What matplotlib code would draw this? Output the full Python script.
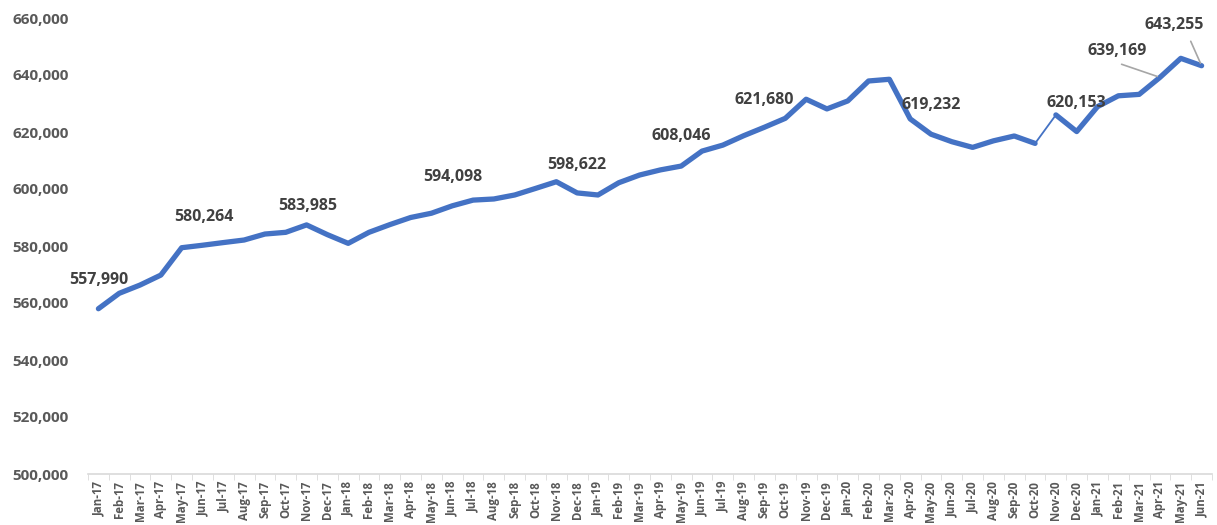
import matplotlib.pyplot as plt
from matplotlib.ticker import FuncFormatter

months = ['Jan-17', 'Feb-17', 'Mar-17', 'Apr-17', 'May-17', 'Jun-17', 'Jul-17', 'Aug-17',
          'Sep-17', 'Oct-17', 'Nov-17', 'Dec-17', 'Jan-18', 'Feb-18', 'Mar-18', 'Apr-18',
          'May-18', 'Jun-18', 'Jul-18', 'Aug-18', 'Sep-18', 'Oct-18', 'Nov-18', 'Dec-18',
          'Jan-19', 'Feb-19', 'Mar-19', 'Apr-19', 'May-19', 'Jun-19', 'Jul-19', 'Aug-19',
          'Sep-19', 'Oct-19', 'Nov-19', 'Dec-19', 'Jan-20', 'Feb-20', 'Mar-20', 'Apr-20',
          'May-20', 'Jun-20', 'Jul-20', 'Aug-20', 'Sep-20', 'Oct-20', 'Nov-20', 'Dec-20',
          'Jan-21', 'Feb-21', 'Mar-21', 'Apr-21', 'May-21', 'Jun-21']

values = [557990, 563400, 566300, 569800, 579400, 580264, 581200, 582100,
          584200, 584800, 587400, 583985, 580930, 584800, 587500, 590000,
          591500, 594098, 596100, 596500, 597900, 600200, 602550, 598622,
          597900, 602200, 604900, 606700, 608046, 613300, 615400, 618700,
          621680, 624800, 631500, 628100, 630900, 637900, 638500, 624600,
          619232, 616600, 614600, 616900, 618600, 616000, 626000, 620153,
          628900, 632700, 633200, 639169, 645850, 643255]

# labelled months and label offsets (pixels)
label_idx = [0, 5, 11, 17, 23, 28, 32, 40, 47, 51, 53]
label_dx = [0, 1, -20, 0, 0, 0, 0, 0, 0, -43, -27]
label_dy = [29, 28, 29, 29, 28, 30, 27, 29, 29, 26, 41]

blue = '#4472C4'
plt.rcParams['font.family'] = ['Open Sans', 'DejaVu Sans']

fig = plt.figure(figsize=(12.17, 5.25), dpi=100)
ax = fig.add_axes([88 / 1217, 51 / 525, 1124 / 1217, 456 / 525])

x = list(range(len(months)))
kw = dict(color=blue, solid_capstyle='round', solid_joinstyle='round')
# Excel drew the Oct-20 -> Nov-20 segment thin
ax.plot(x[:46], values[:46], lw=3.8, **kw)
ax.plot(x[45:47], values[45:47], lw=1.3, **kw)
ax.plot(x[46:], values[46:], lw=3.8, **kw)

for i, dx, dy in zip(label_idx, label_dx, label_dy):
    ax.annotate(f'{values[i]:,}', (x[i], values[i]), xytext=(dx, dy),
                textcoords='offset pixels', ha='center', va='center',
                fontsize=11.5, fontweight='bold', color='#404040')
    if i in (51, 53):
        ax.annotate('', (x[i], values[i]), xytext=(dx + (15 if i == 53 else 2), dy - (14 if i == 53 else 12)),
                    textcoords='offset pixels',
                    arrowprops=dict(arrowstyle='-', color='#a6a6a6', lw=1.2))

ax.set_xlim(-0.5, len(months) - 0.5)
ax.set_ylim(500000, 660000)
ax.set_yticks(range(500000, 660001, 20000))
ax.yaxis.set_major_formatter(FuncFormatter(lambda v, p: f'{int(v):,}'))
ax.set_xticks(x)
ax.set_xticklabels(months, rotation=90, fontsize=8.3, color='#595959', fontweight='bold')
ax.set_xticks([i - 0.5 for i in range(len(months) + 1)], minor=True)
ax.tick_params(axis='x', which='major', length=0, pad=5)
ax.tick_params(axis='x', which='minor', length=4, color='#d9d9d9')
ax.tick_params(axis='y', length=0, pad=14, labelsize=11, labelcolor='#595959')
for lab in ax.get_yticklabels():
    lab.set_fontweight('bold')

for s in ['top', 'right', 'left']:
    ax.spines[s].set_visible(False)
ax.spines['bottom'].set_color('#d9d9d9')
ax.spines['bottom'].set_linewidth(1.2)

fig.savefig('out.png', dpi=100)
